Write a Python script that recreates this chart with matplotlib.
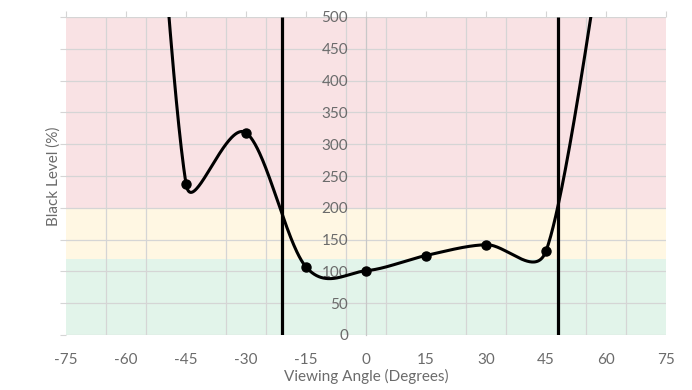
import numpy as np
import matplotlib
matplotlib.use("Agg")
import matplotlib.pyplot as plt

# measured black level per viewing angle (the outer two points sit off-chart)
angles = [-60, -45, -30, -15, 0, 15, 30, 45, 60]
black_level = [1500, 238, 318, 107, 101, 125, 142, 132, 650]
cutoff_angles = [-21, 48]

# background zones (bottom, top, colour)
zone_bounds = [0, 120, 200, 500]
zone_colors = ["#e2f4ea", "#fff7e3", "#f9e2e4"]

TEXT = "#6b6b6b"
GRID = "#d5d5d5"


def smooth_curve(xs, ys, sx, sy, n=80):
    """Catmull-Rom style bezier, control arms capped at half the segment (pixel space)."""
    pts = np.column_stack([np.asarray(xs, float) * sx, np.asarray(ys, float) * sy])
    out = []
    for i in range(len(pts) - 1):
        p1, p2 = pts[i], pts[i + 1]
        p0 = pts[i - 1] if i > 0 else p1
        p3 = pts[i + 2] if i + 2 < len(pts) else p2
        half = np.linalg.norm(p2 - p1) / 2
        a1 = (p2 - p0) / 6
        a2 = (p3 - p1) / 6
        if np.linalg.norm(a1) > half:
            a1 = a1 / np.linalg.norm(a1) * half
        if np.linalg.norm(a2) > half:
            a2 = a2 / np.linalg.norm(a2) * half
        c1, c2 = p1 + a1, p2 - a2
        t = np.linspace(0, 1, n)[:, None]
        seg = (1 - t) ** 3 * p1 + 3 * t * (1 - t) ** 2 * c1 + 3 * t ** 2 * (1 - t) * c2 + t ** 3 * p2
        out.append(seg if i == 0 else seg[1:])
    out = np.vstack(out)
    return out[:, 0] / sx, out[:, 1] / sy


plt.rcParams["font.family"] = ["Lato", "DejaVu Sans"]
plt.rcParams["axes.unicode_minus"] = False

fig = plt.figure(figsize=(6.92, 3.9), dpi=100)
ax = fig.add_axes([66 / 692, 55 / 390, 600 / 692, 318 / 390])
ax.set_xlim(-75, 75)
ax.set_ylim(0, 500)

for lo, hi, col in zip(zone_bounds[:-1], zone_bounds[1:], zone_colors):
    ax.axhspan(lo, hi, color=col, zorder=0, lw=0)

# grid: horizontal every 50, vertical every 10 starting at -75
ax.set_yticks(np.arange(0, 501, 50))
ax.set_xticks(np.arange(-75, 76, 15))
ax.set_xticks(np.arange(-75, 76, 10), minor=True)
ax.grid(axis="y", which="major", color=GRID, lw=0.9, zorder=1)
ax.grid(axis="x", which="minor", color=GRID, lw=0.9, zorder=1)
ax.set_axisbelow(True)

for s in ["top", "right", "bottom"]:
    ax.spines[s].set_visible(False)
# y axis (and its labels) runs through 0 degrees
ax.spines["left"].set_position(("data", 0))
ax.spines["left"].set_color("#c8c8c8")
ax.spines["left"].set_linewidth(0.9)

ax.tick_params(axis="x", which="major", top=True, bottom=False, length=4,
               color=GRID, labelsize=11, labelcolor=TEXT, pad=9)
ax.tick_params(axis="x", which="minor", top=False, bottom=False)
ax.tick_params(axis="y", length=0, labelsize=11, labelcolor=TEXT, pad=13)

# small tick marks on the left edge
edge = ax.secondary_yaxis("left")
edge.set_yticks(np.arange(0, 501, 50))
edge.set_yticklabels([])
edge.spines["left"].set_visible(False)
edge.tick_params(length=4, color=GRID)
edge.set_ylabel("Black Level (%)", color=TEXT, fontsize=11, labelpad=-4)

ax.set_xlabel("Viewing Angle (Degrees)", color=TEXT, fontsize=11, labelpad=1)

# curve
sx = 600 / 150
sy = 318 / 500
cx, cy = smooth_curve(angles, black_level, sx, sy)
ax.plot(cx, cy, color="black", lw=2.2, zorder=4)
ax.plot(angles, black_level, "o", color="black", ms=6.5, zorder=5)

ax.vlines(cutoff_angles, 0, 500, color="black", lw=2.3, zorder=6)

fig.savefig("out.png", dpi=100)
